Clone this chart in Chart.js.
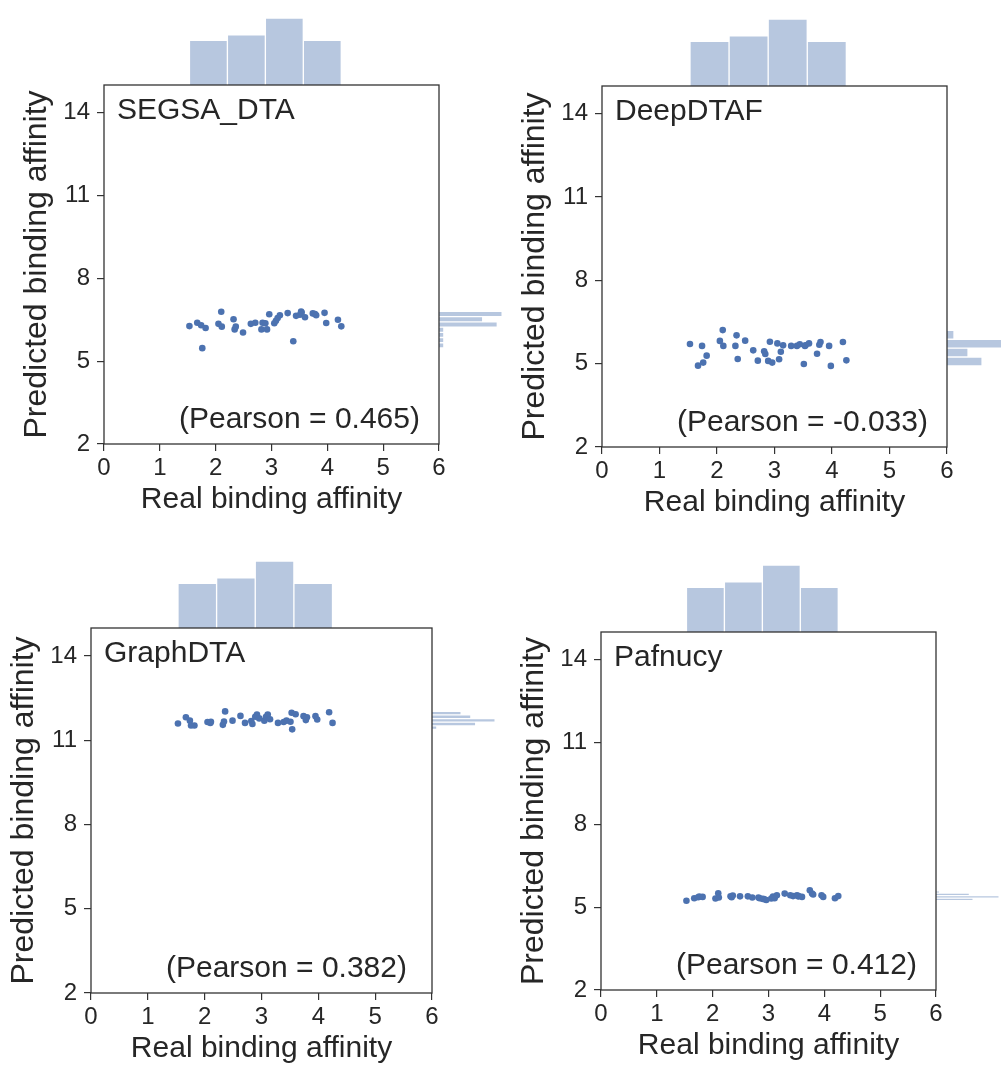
<!DOCTYPE html>
<html>
<head>
<meta charset="utf-8">
<script src="https://cdn.jsdelivr.net/npm/chart.js@4.4.1/dist/chart.umd.min.js"></script>
<style>
  html, body { margin: 0; padding: 0; background: #fff; overflow: hidden; }
  #wrap { position: relative; width: 1001px; height: 1068px; overflow: hidden; }
  #wrap canvas { position: absolute; }
</style>
</head>
<body>
<div id="wrap"></div>
<script>
// =============================
// DATA
// =============================
const realAffinity = [1.53, 1.67, 1.74, 1.76, 1.82, 2.05, 2.10, 2.11, 2.32, 2.34, 2.36, 2.49, 2.63,
  2.71, 2.82, 2.84, 2.89, 2.92, 2.96, 3.05, 3.08, 3.11, 3.15, 3.29, 3.39, 3.44, 3.51, 3.53, 3.54,
  3.60, 3.74, 3.78, 3.80, 3.95, 3.98, 4.19, 4.25];

const predSEGSA = [6.27, 6.39, 6.30, 5.47, 6.20, 6.35, 6.79, 6.25, 6.52, 6.15, 6.25, 6.04, 6.35,
  6.39, 6.15, 6.39, 6.37, 6.15, 6.70, 6.37, 6.46, 6.56, 6.66, 6.74, 5.72, 6.64, 6.68, 6.80, 6.76,
  6.59, 6.73, 6.71, 6.66, 6.75, 6.38, 6.50, 6.26];
const predDeepDTAF = [5.71, 4.93, 5.64, 5.04, 5.29, 5.82, 6.21, 5.64, 5.64, 6.02, 5.17, 5.83, 5.48,
  5.11, 5.45, 5.35, 5.10, 5.79, 5.04, 5.73, 5.16, 5.43, 5.66, 5.64, 5.64, 5.70, 4.99, 5.64, 5.66,
  5.73, 5.36, 5.68, 5.78, 5.64, 4.92, 5.78, 5.12];
const predGraphDTA = [11.60, 11.82, 11.70, 11.53, 11.53, 11.65, 11.62, 11.66, 11.55, 11.67, 12.03,
  11.70, 11.87, 11.62, 11.69, 11.58, 11.84, 11.92, 11.78, 11.70, 11.84, 11.92, 11.75, 11.62, 11.65,
  11.70, 11.66, 11.98, 11.39, 11.93, 11.86, 11.72, 11.82, 11.86, 11.74, 12.00, 11.62];
const predPafnucy = [5.24, 5.33, 5.37, 5.39, 5.38, 5.32, 5.51, 5.36, 5.40, 5.37, 5.43, 5.40, 5.40,
  5.36, 5.36, 5.33, 5.31, 5.30, 5.27, 5.32, 5.39, 5.33, 5.44, 5.50, 5.44, 5.41, 5.44, 5.40, 5.41,
  5.38, 5.62, 5.50, 5.47, 5.44, 5.38, 5.33, 5.41];

const modelNames = ["SEGSA_DTA", "DeepDTAF", "GraphDTA", "Pafnucy"];
const pearsonValues = ["0.465", "-0.033", "0.382", "0.412"];

const xTicks = [0, 1, 2, 3, 4, 5, 6];
const yTicks = [2, 5, 8, 11, 14];

// top marginal histogram of real affinity (same for all models)
const topBinCenters = [1.87, 2.55, 3.23, 3.91];
const topBinCounts = [8, 9, 12, 8];

// right marginal histograms of predicted affinity
const rightBinsSEGSA = [5.57, 5.76, 5.95, 6.14, 6.33, 6.52, 6.71];
const rightCountsSEGSA = [1, 1, 1, 1, 12, 9, 13];
const rightBinsDeepDTAF = [5.08, 5.40, 5.72, 6.04];
const rightCountsDeepDTAF = [10, 6, 18, 2];
const rightBinsGraphDTA = [11.45, 11.58, 11.71, 11.84, 11.97];
const rightCountsGraphDTA = [1, 9, 13, 8, 6];
const rightBinsPafnucy = [5.29, 5.38, 5.47, 5.56];
const rightCountsPafnucy = [10, 17, 9, 1];

// =============================
// LAYOUT / STYLE
// =============================
const AXIS_W = 104, AXIS_H = 75, TOP_H = 75, RIGHT_W = 72;
const DOT = "#4c72b0";
const HIST_FILL = "rgba(76,114,176,0.4)";
const HIST_EDGE = "rgba(255,255,255,0.6)";
const INK = "#262626";
const FONT = "'Liberation Sans', Arial, sans-serif";

const panels = [
  { pred: predSEGSA, bins: rightBinsSEGSA, counts: rightCountsSEGSA, left: 104, top: 85, w: 335, h: 359 },
  { pred: predDeepDTAF, bins: rightBinsDeepDTAF, counts: rightCountsDeepDTAF, left: 602, top: 86, w: 345, h: 361 },
  { pred: predGraphDTA, bins: rightBinsGraphDTA, counts: rightCountsGraphDTA, left: 91, top: 628, w: 341, h: 365 },
  { pred: predPafnucy, bins: rightBinsPafnucy, counts: rightCountsPafnucy, left: 601, top: 632, w: 335, h: 358 }
];

Chart.defaults.font.family = FONT;
Chart.defaults.color = INK;

const wrap = document.getElementById("wrap");

// box around the scatter area + texts inside it
const boxPlugin = {
  id: "box",
  afterDatasetsDraw(chart, args, opts) {
    const { ctx } = chart;
    const x = chart.scales.x, y = chart.scales.y;
    ctx.save();
    ctx.strokeStyle = "#333";
    ctx.lineWidth = 1.3;
    ctx.strokeRect(x.left, y.top, x.right - x.left, y.bottom - y.top);

    ctx.fillStyle = INK;
    ctx.font = "30px " + FONT;
    ctx.textBaseline = "middle";
    ctx.textAlign = "left";
    ctx.fillText(opts.name, x.left + 13, y.top + 26);
    ctx.fillText("(Pearson = " + opts.pearson + ")", x.left + 75, y.bottom - 24);
    ctx.restore();
  }
};

function zeroPadding(scale) {
  scale.paddingTop = scale.paddingBottom = scale.paddingLeft = scale.paddingRight = 0;
}

const histStyle = {
  type: "bar",
  backgroundColor: HIST_FILL,
  borderColor: HIST_EDGE,
  borderWidth: 1,
  grouped: false,
  barPercentage: 1,
  categoryPercentage: 1
};

panels.forEach((p, i) => {
  const cv = document.createElement("canvas");
  cv.width = AXIS_W + p.w + RIGHT_W;
  cv.height = TOP_H + p.h + AXIS_H;
  cv.style.left = (p.left - AXIS_W) + "px";
  cv.style.top = (p.top - TOP_H) + "px";
  wrap.appendChild(cv);

  new Chart(cv.getContext("2d"), {
    type: "scatter",
    data: {
      datasets: [
        {
          type: "scatter",
          data: realAffinity.map((v, k) => ({ x: v, y: p.pred[k] })),
          xAxisID: "x", yAxisID: "y",
          pointRadius: 3.3,
          backgroundColor: DOT,
          borderWidth: 0
        },
        {
          ...histStyle,
          data: topBinCenters.map((c, k) => ({ x: c, y: topBinCounts[k] })),
          xAxisID: "x", yAxisID: "yTop"
        },
        {
          ...histStyle,
          indexAxis: "y",
          data: p.bins.map((c, k) => ({ x: p.counts[k], y: c })),
          xAxisID: "xRight", yAxisID: "y"
        }
      ]
    },
    options: {
      responsive: false,
      animation: false,
      events: [],
      layout: { padding: 0, autoPadding: false },
      plugins: {
        legend: { display: false },
        tooltip: { enabled: false },
        box: { name: modelNames[i], pearson: pearsonValues[i] }
      },
      scales: {
        x: {
          type: "linear", axis: "x", position: "bottom",
          stack: "h", stackWeight: p.w, weight: 0,
          min: 0, max: 6, offset: false,
          afterBuildTicks: s => { s.ticks = xTicks.map(v => ({ value: v })); },
          afterFit: s => { s.height = AXIS_H; zeroPadding(s); },
          grid: { offset: false, drawOnChartArea: false, drawTicks: true, tickLength: 7, color: "#333", lineWidth: 1.2 },
          border: { display: false },
          ticks: { font: { size: 24 }, color: INK, padding: 3, maxRotation: 0 },
          title: { display: true, text: "Real binding affinity", font: { size: 30 }, color: INK, padding: { top: 0, bottom: 1 } }
        },
        xRight: {
          type: "linear", axis: "x", position: "bottom",
          stack: "h", stackWeight: RIGHT_W, weight: 1,
          min: 0, max: Math.max(...p.counts) * 1.14, offset: false,
          display: false
        },
        y: {
          type: "linear", axis: "y", position: "left",
          stack: "v", stackWeight: p.h, weight: 0,
          min: 2, max: 15, offset: false,
          afterBuildTicks: s => { s.ticks = yTicks.map(v => ({ value: v })); },
          afterFit: s => { s.width = AXIS_W; zeroPadding(s); },
          grid: { offset: false, drawOnChartArea: false, drawTicks: true, tickLength: 7, color: "#333", lineWidth: 1.2 },
          border: { display: false },
          ticks: { font: { size: 24 }, color: INK, padding: 7 },
          title: { display: true, text: "Predicted binding affinity", font: { size: 32 }, color: INK, padding: { top: 18, bottom: 0 } }
        },
        yTop: {
          type: "linear", axis: "y", position: "left",
          stack: "v", stackWeight: TOP_H, weight: 1,
          min: 0, max: Math.max(...topBinCounts) * 1.12, offset: false,
          display: false
        }
      }
    },
    plugins: [boxPlugin]
  });
});
</script>
</body>
</html>
